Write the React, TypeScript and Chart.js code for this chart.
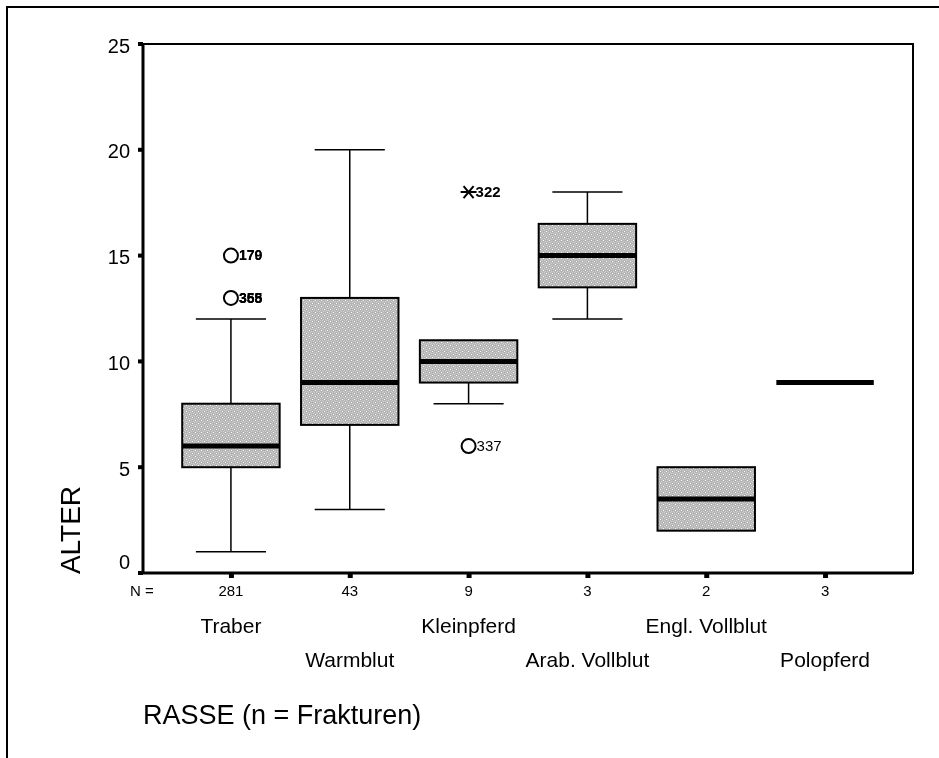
import React, { useEffect, useRef } from "react";
import { Chart, registerables } from "chart.js";

Chart.register(...registerables);

const categories = ["Traber", "Warmblut", "Kleinpferd", "Arab. Vollblut", "Engl. Vollblut", "Polopferd"];
const counts = [281, 43, 9, 3, 2, 3];
const mins = [1, 3, 8, 12, 2, 9];
const q1s = [5, 7, 9, 13.5, 2, 9];
const medians = [6, 9, 10, 15, 3.5, 9];
const q3s = [8, 13, 11, 16.5, 5, 9];
const maxs = [12, 20, 11, 18, 5, 9];
const outlierCats = [0, 0, 2];
const outlierValues = [15, 13, 6];
const outlierLabels = [["170", "179"], ["355", "358", "365"], ["337"]];
const extremeCats = [2];
const extremeValues = [18];
const extremeLabels = [["322"]];
const yTicks = [0, 5, 10, 15, 20, 25];
const yTitle = "ALTER";
const xTitle = "RASSE (n = Frakturen)";

const FONT = "Arial, 'Liberation Sans', sans-serif";

function makePattern(ctx: CanvasRenderingContext2D) {
  const c = document.createElement("canvas");
  c.width = 6;
  c.height = 6;
  const g = c.getContext("2d")!;
  g.fillStyle = "#b5b5b5";
  g.fillRect(0, 0, 6, 6);
  g.fillStyle = "#d0d0d0";
  const pts = [[1, 1], [2, 2], [4, 4], [5, 5], [5, 1], [4, 2], [2, 4], [1, 5]];
  for (const [x, y] of pts) g.fillRect(x, y, 1, 1);
  g.fillStyle = "#ffffff";
  g.fillRect(3, 0, 1, 1);
  g.fillRect(0, 3, 1, 1);
  return ctx.createPattern(c, "repeat");
}

const boxPlugin = {
  id: "boxPlugin",
  afterDraw(chart: any) {
    const ctx: CanvasRenderingContext2D = chart.ctx;
    const xs = chart.scales.x;
    const ys = chart.scales.y;
    const area = chart.chartArea;
    const unit = xs.getPixelForValue(1) - xs.getPixelForValue(0);
    const boxHalf = unit * 0.41;
    const capHalf = unit * 0.295;
    const pattern = makePattern(ctx);

    ctx.save();
    // outer frame
    ctx.strokeStyle = "#000";
    ctx.lineWidth = 2;
    ctx.beginPath();
    ctx.moveTo(7, 758);
    ctx.lineTo(7, 7);
    ctx.lineTo(939, 7);
    ctx.stroke();

    // plot frame
    ctx.lineWidth = 2;
    ctx.strokeRect(area.left, area.top, area.right - area.left, area.bottom - area.top);
    ctx.lineWidth = 3;
    ctx.beginPath();
    ctx.moveTo(area.left, area.top);
    ctx.lineTo(area.left, area.bottom);
    ctx.lineTo(area.right, area.bottom);
    ctx.stroke();

    // y ticks
    ctx.fillStyle = "#000";
    ctx.font = `20px ${FONT}`;
    ctx.textAlign = "right";
    ctx.textBaseline = "middle";
    for (const t of yTicks) {
      const y = ys.getPixelForValue(t);
      ctx.fillRect(area.left - 5, y - 2, 5, 4);
      ctx.fillText(String(t), area.left - 13, Math.min(y + 3, area.bottom - 10));
    }

    // x ticks, N labels, category labels
    ctx.textAlign = "center";
    categories.forEach((cat, i) => {
      const x = xs.getPixelForValue(i);
      ctx.fillRect(x - 2, area.bottom, 5, 5);
      ctx.font = `15px ${FONT}`;
      ctx.fillText(String(counts[i]), x, area.bottom + 19);
      ctx.font = `21px ${FONT}`;
      ctx.fillText(cat, x, area.bottom + (i % 2 === 0 ? 54 : 88));
    });
    ctx.font = `15px ${FONT}`;
    ctx.fillText("N =", 142, area.bottom + 19);

    // titles
    ctx.font = `27px ${FONT}`;
    ctx.textAlign = "left";
    ctx.fillText(xTitle, area.left, 717);
    ctx.save();
    ctx.translate(80, 530);
    ctx.rotate(-Math.PI / 2);
    ctx.textAlign = "center";
    ctx.textBaseline = "alphabetic";
    ctx.font = `28px ${FONT}`;
    ctx.fillText(yTitle, 0, 0);
    ctx.restore();

    // boxes
    categories.forEach((_, i) => {
      const x = xs.getPixelForValue(i);
      const yMin = ys.getPixelForValue(mins[i]);
      const yQ1 = ys.getPixelForValue(q1s[i]);
      const yMed = ys.getPixelForValue(medians[i]);
      const yQ3 = ys.getPixelForValue(q3s[i]);
      const yMax = ys.getPixelForValue(maxs[i]);
      ctx.strokeStyle = "#000";
      ctx.lineWidth = 1.5;
      ctx.beginPath();
      if (yMin > yQ1 + 0.5) {
        ctx.moveTo(x, yQ1);
        ctx.lineTo(x, yMin);
        ctx.moveTo(x - capHalf, yMin);
        ctx.lineTo(x + capHalf, yMin);
      }
      if (yMax < yQ3 - 0.5) {
        ctx.moveTo(x, yQ3);
        ctx.lineTo(x, yMax);
        ctx.moveTo(x - capHalf, yMax);
        ctx.lineTo(x + capHalf, yMax);
      }
      ctx.stroke();
      if (yQ1 - yQ3 > 1) {
        ctx.fillStyle = pattern || "#c6c6c6";
        ctx.fillRect(x - boxHalf, yQ3, boxHalf * 2, yQ1 - yQ3);
        ctx.lineWidth = 2;
        ctx.strokeRect(x - boxHalf, yQ3, boxHalf * 2, yQ1 - yQ3);
      }
      ctx.lineWidth = 5;
      ctx.beginPath();
      ctx.moveTo(x - boxHalf, yMed);
      ctx.lineTo(x + boxHalf, yMed);
      ctx.stroke();
    });

    // outliers
    ctx.textAlign = "left";
    ctx.fillStyle = "#000";
    outlierCats.forEach((c, k) => {
      const x = xs.getPixelForValue(c);
      const y = ys.getPixelForValue(outlierValues[k]);
      ctx.lineWidth = 2;
      ctx.strokeStyle = "#000";
      ctx.beginPath();
      ctx.arc(x, y, 7, 0, Math.PI * 2);
      ctx.stroke();
      ctx.font = outlierLabels[k].length > 1 ? `bold 14px ${FONT}` : `15px ${FONT}`;
      for (const lab of outlierLabels[k]) ctx.fillText(lab, x + 8, y + 1);
    });
    extremeCats.forEach((c, k) => {
      const x = xs.getPixelForValue(c);
      const y = ys.getPixelForValue(extremeValues[k]);
      ctx.lineWidth = 2;
      ctx.beginPath();
      ctx.moveTo(x - 8, y);
      ctx.lineTo(x + 8, y);
      ctx.moveTo(x - 5, y - 6);
      ctx.lineTo(x + 5, y + 6);
      ctx.moveTo(x + 5, y - 6);
      ctx.lineTo(x - 5, y + 6);
      ctx.stroke();
      ctx.font = `bold 15px ${FONT}`;
      for (const lab of extremeLabels[k]) ctx.fillText(lab, x + 7, y + 1);
    });
    ctx.restore();
  },
};

export default function App() {
  const ref = useRef<HTMLCanvasElement | null>(null);
  useEffect(() => {
    if (!ref.current) return;
    const chart = new Chart(ref.current, {
      type: "scatter",
      data: { datasets: [{ data: [], pointRadius: 0 }] },
      options: {
        animation: false,
        responsive: false,
        devicePixelRatio: 1,
        layout: { padding: { left: 143, top: 44, right: 26, bottom: 185 } },
        plugins: { legend: { display: false }, tooltip: { enabled: false } },
        scales: {
          x: { type: "linear", min: -0.74, max: 5.74, display: false },
          y: { type: "linear", min: 0, max: 25, display: false },
        },
      },
      plugins: [boxPlugin],
    });
    return () => chart.destroy();
  }, []);
  return (
    <div style={{ position: "fixed", left: 0, top: 0, width: 939, height: 758, background: "#fff" }}>
      <canvas ref={ref} width={939} height={758} style={{ width: 939, height: 758 }} />
    </div>
  );
}
